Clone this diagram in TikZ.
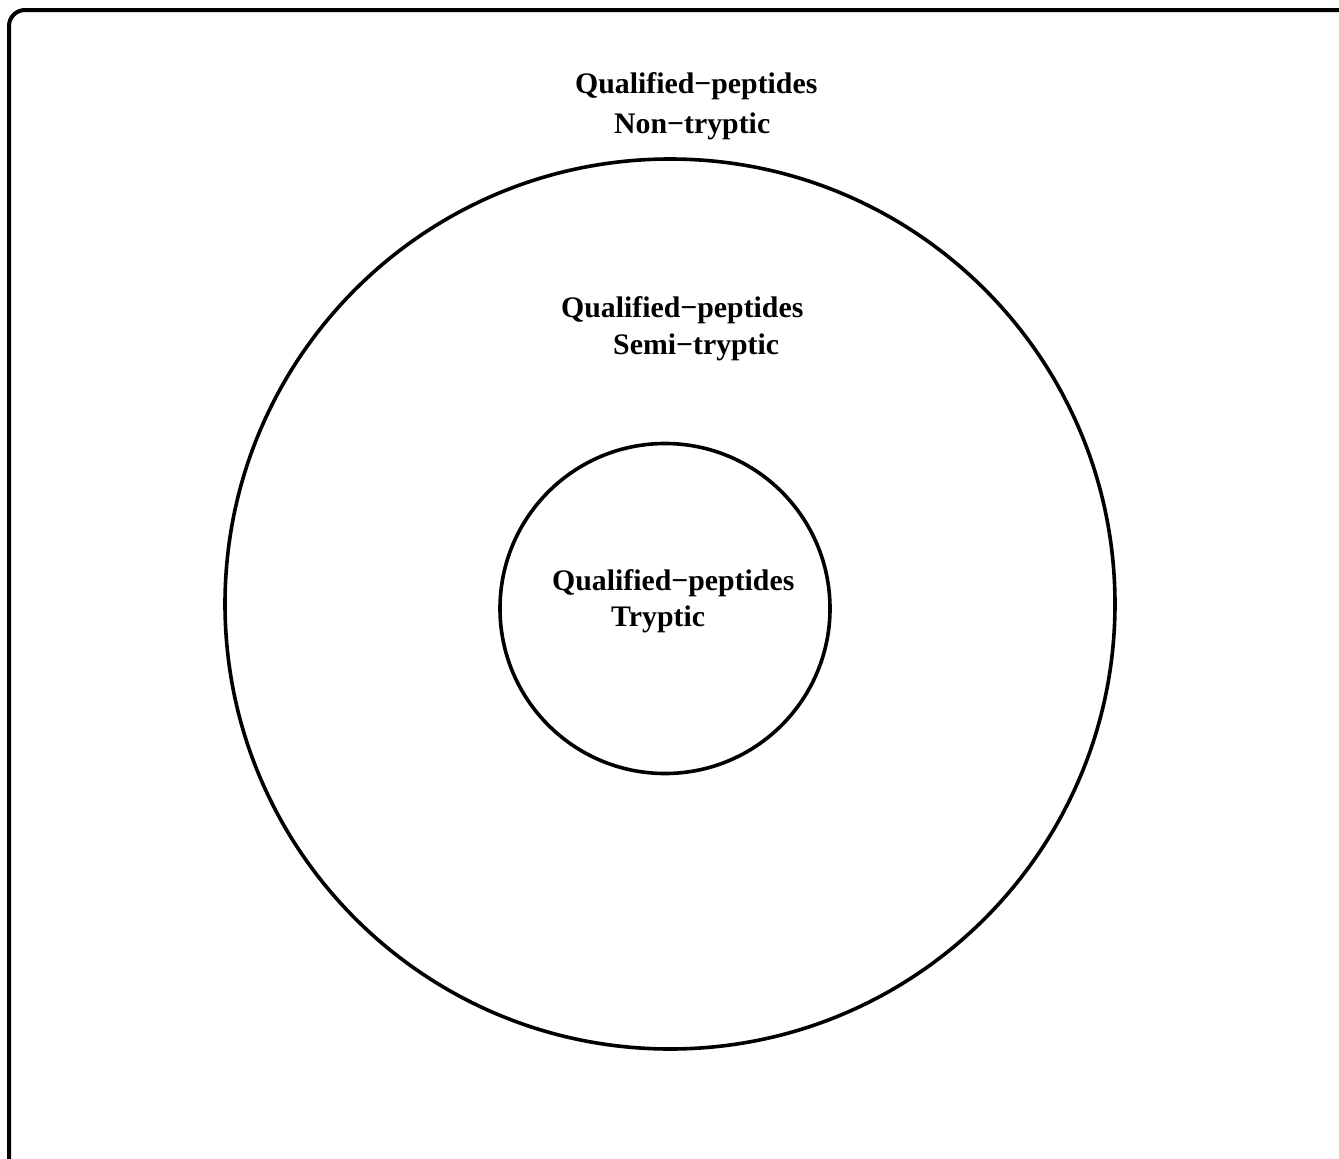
\documentclass[tikz,border=0pt]{standalone}
\usepackage{fontspec}
\setmainfont{Liberation Serif}
\begin{document}
\begin{tikzpicture}[x=1pt,y=-1pt,
  ring/.style={draw=black,line width=3.6pt,circle},
  lbl/.style={anchor=base west,inner sep=0pt,font=\fontsize{29.8}{32}\selectfont\bfseries}]
\useasboundingbox (0,0) rectangle (1339,1159);
\begin{scope}
\clip (0,0) rectangle (1339,1159);
\draw[line width=4pt,rounded corners=16pt] (9,10) rectangle (1360,1180);
\end{scope}
\draw[line width=3.6pt] (670,604) circle[radius=445];
\draw[line width=3.6pt] (665,608.5) circle[radius=165];
\node[lbl] (n1) at (575,93) {Qualified−peptides};
\node[lbl] (n2) at (614,133) {Non−tryptic};
\node[lbl] (s1) at (561,317) {Qualified−peptides};
\node[lbl] (s2) at (613,354) {Semi−tryptic};
\node[lbl] (t1) at (552,590) {Qualified−peptides};
\node[lbl] (t2) at (611,626) {Tryptic};
\end{tikzpicture}
\end{document}
